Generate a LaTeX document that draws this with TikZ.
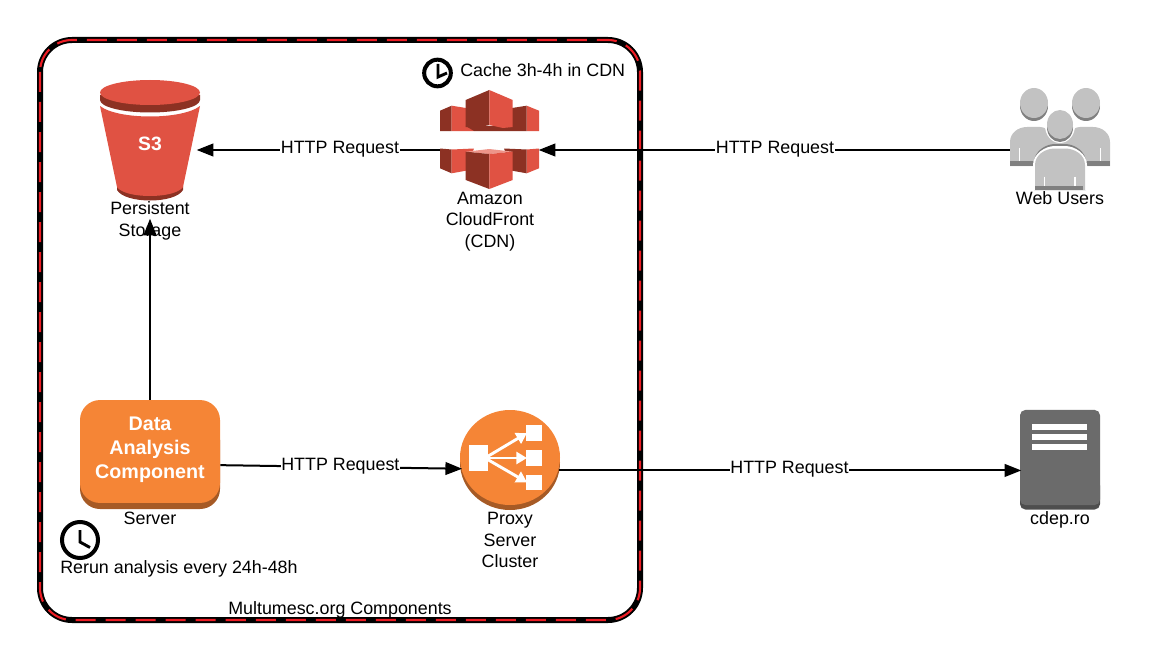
\documentclass[tikz,border=0pt]{standalone}
\usepackage{fontspec}
\setmainfont{Liberation Sans}
\usetikzlibrary{arrows.meta}

\definecolor{framered}{HTML}{ED1C24}
\definecolor{awsred}{HTML}{E05243}
\definecolor{awsdark}{HTML}{8C3123}
\definecolor{awspink}{HTML}{EE958A}
\definecolor{awsorange}{HTML}{F58536}
\definecolor{awsbrown}{HTML}{A65A25}
\definecolor{usergray}{HTML}{C2C2C2}
\definecolor{userdark}{HTML}{808080}
\definecolor{hostgray}{HTML}{6B6B6B}
\definecolor{hostdark}{HTML}{4E4E4E}

\tikzset{
  label/.style={font=\fontsize{13.4}{16}\selectfont, align=center, inner sep=0pt},
  spot/.style={inner sep=0pt, minimum width=#1},
  link/.style={line width=1.5pt, shorten >=-1.2pt, -{Triangle[length=12.5pt,width=9.5pt]}},
  req/.style={label, fill=white, inner xsep=.5pt, inner ysep=1pt, yshift=.75pt},
  clockface/.style={draw=black, line width=3pt, fill=white},
  clockhand/.style={line width=2.2pt},
}

\begin{document}
\begin{tikzpicture}[x=.75pt,y=-.75pt]
\useasboundingbox (0,0) rectangle (1150,660);

% frame
\draw[line width=4.5pt, rounded corners=24pt] (40,40) rectangle (640,620);
\draw[framered, line width=1.6pt, rounded corners=24pt, dash pattern=on 15pt off 7.5pt] (40,40) rectangle (640,620);

% bucket
\fill[awsdark] (100,95) -- (100,100) arc[x radius=50,y radius=12.5,start angle=180,end angle=0] -- (200,95) -- cycle;
\fill[awsred] (150,92.5) ellipse[x radius=50,y radius=12.5];
\fill[awsdark] (117,186) -- (117,190) .. controls (125,204) and (175,204) .. (183,190) -- (183,186) -- cycle;
\fill[awsred] (100,106) .. controls (118,120) and (182,120) .. (200,106) -- (183,187) .. controls (175,199) and (125,199) .. (117,187) -- cycle;
\node[spot=72pt, minimum height=105pt] (s3) at (150,150) {};
\node[inner sep=0pt, text=white, font=\fontsize{14.5}{16}\selectfont\bfseries] (s3name) at (150,144) {S3};

% cloudfront, upper half
\fill[awsdark] (440,110.7) -- (451.7,105.7) -- (451.7,131) -- (440,131) -- cycle;
\fill[awsred] (451.7,105.7) -- (466,108) -- (474,131) -- (451.7,131) -- cycle;
\fill[awsred] (539,110.7) -- (526.7,105.7) -- (526.7,131) -- (539,131) -- cycle;
\fill[awsdark] (526.7,105.7) -- (512,108) -- (504,131) -- (526.7,131) -- cycle;
\fill[awsdark] (465.7,126) -- (512.7,126) -- (504,131) -- (474,131) -- cycle;
\fill[awsdark] (489.3,90) -- (465.7,100) -- (465.7,127) -- (476,128) -- (489.3,125) -- cycle;
\fill[awsred] (489.3,90) -- (512.7,100) -- (512.7,127) -- (503,128) -- (489.3,125) -- cycle;
% cloudfront, lower half
\fill[awsdark] (440,148.5) -- (451.7,149.5) -- (451.7,173.3) -- (440,168.3) -- cycle;
\fill[awsred] (451.7,149.5) -- (474,148.5) -- (466,170.7) -- (451.7,173.3) -- cycle;
\fill[awsred] (539,148.5) -- (526.7,149.5) -- (526.7,173.3) -- (539,168.3) -- cycle;
\fill[awsdark] (526.7,149.5) -- (504,148.5) -- (512,170.7) -- (526.7,173.3) -- cycle;
\fill[awspink] (465.7,151.7) -- (489.3,149) -- (512.7,151.7) -- (489.3,154) -- cycle;
\fill[awsdark] (465.7,151.7) -- (489.3,154) -- (489.3,189) -- (465.7,180) -- cycle;
\fill[awsred] (512.7,151.7) -- (489.3,154) -- (489.3,189) -- (512.7,180) -- cycle;
\node[spot=75pt, minimum height=75pt] (cf) at (490,150) {};

% users
\foreach \bx/\dir in {1010/1,1110/-1} {
  \begin{scope}[shift={(\bx,0)},xscale=\dir]
    \fill[usergray] (0,166) -- (0,142) .. controls (0,133) and (8,127) .. (17,127) -- (30,127) .. controls (38,127) and (48,138) .. (50,143) -- (50,166) -- cycle;
    \fill[userdark] (0,161) rectangle (30,166);
    \draw[white, line width=.9pt] (9.3,148) -- (9.3,161);
  \end{scope}
}
\foreach \hx/\hy/\rx/\ry in {1034/103/14/15,1086/103/14/15} {
  \fill[userdark] (\hx,\hy+3) ellipse[x radius=\rx,y radius=\ry];
  \fill[usergray] (\hx,\hy) ellipse[x radius=\rx,y radius=\ry];
}
\fill[userdark] (1034,190) -- (1034,162) .. controls (1034,152) and (1045,144) .. (1055,144) -- (1065,144) .. controls (1075,144) and (1086,152) .. (1086,162) -- (1086,190) -- cycle;
\fill[white] (1033,190) -- (1033,165) .. controls (1033,154) and (1045,146) .. (1055,146) -- (1065,146) .. controls (1075,146) and (1087,154) .. (1087,165) -- (1087,190) -- cycle;
\fill[usergray] (1035,190) -- (1035,165) .. controls (1035,155) and (1045,148.5) .. (1055,148.5) -- (1065,148.5) .. controls (1075,148.5) and (1085,155) .. (1085,165) -- (1085,190) -- cycle;
\fill[userdark] (1035,186) rectangle (1083,190);
\draw[white, line width=.9pt] (1044.3,176.7) -- (1044.3,186) (1075,176.7) -- (1075,186);
\fill[white] (1060,125.5) ellipse[x radius=15,y radius=17.5];
\fill[userdark] (1060,127.5) ellipse[x radius=13,y radius=14.5];
\fill[usergray] (1060,124.5) ellipse[x radius=13,y radius=14.5];
\node[spot=75pt, minimum height=75pt] (users) at (1060,150) {};

% server
\fill[awsbrown, rounded corners=15pt] (80,420) rectangle (220,509);
\node[fill=awsorange, rounded corners=15pt, minimum width=105pt, minimum height=77.2pt, inner sep=0pt] (server) at (150,451.5) {};
\node[inner sep=0pt, text=white, align=center, font=\fontsize{14.8}{18}\selectfont\bfseries] (servername) at (150,449.5) {Data\\Analysis\\Component};

% proxy
\fill[awsbrown] (510,462.5) ellipse[x radius=50,y radius=47.5];
\node[circle, minimum size=75pt, inner sep=0pt] (proxy) at (510,460) {};
\fill[awsorange] (510,457.5) ellipse[x radius=50,y radius=47.5];
\fill[white] (469.3,445) rectangle (487.7,470.7);
\foreach \sy in {433,458,482.3} {
  \fill[white] (525.7,\sy-7.7) rectangle (541.7,\sy+7.7);
  \draw[white, line width=2.2pt, -{Triangle[length=8pt,width=9pt]}] (485,458) -- (527,\sy);
}

% cdep
\fill[hostdark, rounded corners=4pt] (1020,480) rectangle (1100,509.5);
\node[fill=hostgray, rounded corners=4pt, minimum width=60pt, minimum height=71.3pt, inner sep=0pt] (cdep) at (1060,457.5) {};
\foreach \by in {424,434.3,444.3} {
  \fill[white] (1031.7,\by) rectangle (1087.3,\by+5.5);
}

% clocks
\node[circle, clockface, minimum size=20pt, inner sep=0pt] (cacheclock) at (437.5,73) {};
\draw[clockhand] (438,64) -- (438,77) -- (447,73);
\node[circle, clockface, minimum size=27pt, inner sep=0pt] (rerunclock) at (80,540) {};
\draw[clockhand] (80,530) -- (80,542) -- (90,547.5);

% texts
\node[label] (s3txt) at (150,221) {Persistent\\Storage};
\node[label] (cftxt) at (490,221.5) {Amazon\\CloudFront\\(CDN)};
\node[label] (userstxt) at (1060,198) {Web Users};
\node[label] (servertxt) at (150,518) {Server};
\node[label] (proxytxt) at (510,540) {Proxy\\Server\\Cluster};
\node[label] (cdeptxt) at (1060,520) {cdep.ro};
\node[label, anchor=west] (cachetxt) at (460,70) {Cache 3h-4h in CDN};
\node[label, anchor=west] (reruntxt) at (60,569) {Rerun analysis every 24h-48h};
\node[label] (frametxt) at (340,610) {Multumesc.org Components};

% links
\draw[link] (cf.west) -- node[req, pos=.413] {HTTP Request} (s3.east);
\draw[link] (users.west) -- node[req, pos=.5] {HTTP Request} (cf.east);
\draw[link] (server.north) -- (s3.south);
\draw[link] (server.349.1) -- node[req, pos=.5] {HTTP Request} (proxy.190);
\draw[link] (proxy.348) -- node[req, pos=.5] {HTTP Request} (cdep.west |- proxy.348);
\end{tikzpicture}
\end{document}
